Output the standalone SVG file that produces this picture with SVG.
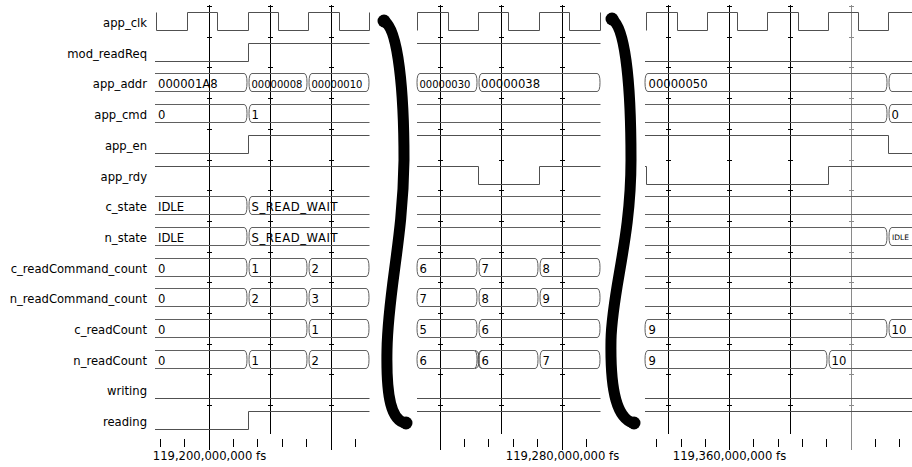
<svg xmlns="http://www.w3.org/2000/svg" xmlns:xlink="http://www.w3.org/1999/xlink" width="912" height="467" viewBox="0 0 912 467">
<style>
.w{fill:none;stroke:#505050;stroke-width:1}
.b{fill:none;stroke:#606060;stroke-width:1}
.g{fill:none;stroke:#000;stroke-width:1}
.gg{fill:none;stroke:#8a8a8a;stroke-width:1}
.lbl{font-family:"DejaVu Sans","Liberation Sans",sans-serif;font-size:11.6px;text-anchor:end;fill:#000}
.v{font-family:"DejaVu Sans","Liberation Sans",sans-serif;font-size:11.6px;fill:#000}
.vs{font-size:10px}
.vt{font-size:7.5px}
.t{font-family:"DejaVu Sans","Liberation Sans",sans-serif;font-size:11.6px;text-anchor:middle;fill:#000}
.brace{fill:none;stroke:#000;stroke-width:11;stroke-linecap:round}
</style>
<defs>
<path id="b1a" class="b" d="M155,6.5 H244 Q247,6.5 247,15.5 Q247,24.5 244,24.5 H155"/>
<path id="b1b" class="b" d="M252,6.5 H304 Q307,6.5 307,15.5 Q307,24.5 304,24.5 H252 Q249,24.5 249,15.5 Q249,6.5 252,6.5 Z"/>
<path id="b1c" class="b" d="M312,6.5 H366 Q369,6.5 369,15.5 Q369,24.5 366,24.5 H312 Q309,24.5 309,15.5 Q309,6.5 312,6.5 Z"/>
<path id="b1o" class="b" d="M369.5,6.5 H252 Q249,6.5 249,15.5 Q249,24.5 252,24.5 H369.5"/>
<path id="b1ab" class="b" d="M155,6.5 H304 Q307,6.5 307,15.5 Q307,24.5 304,24.5 H155"/>
<path id="b2a" class="b" d="M420,6.5 H474 Q477,6.5 477,15.5 Q477,24.5 474,24.5 H420 Q417,24.5 417,15.5 Q417,6.5 420,6.5 Z"/>
<path id="b2b" class="b" d="M482,6.5 H535 Q538,6.5 538,15.5 Q538,24.5 535,24.5 H482 Q479,24.5 479,15.5 Q479,6.5 482,6.5 Z"/>
<path id="b2c" class="b" d="M543,6.5 H597 Q600,6.5 600,15.5 Q600,24.5 597,24.5 H543 Q540,24.5 540,15.5 Q540,6.5 543,6.5 Z"/>
<path id="b2bc" class="b" d="M482,6.5 H597 Q600,6.5 600,15.5 Q600,24.5 597,24.5 H482 Q479,24.5 479,15.5 Q479,6.5 482,6.5 Z"/>
<path id="l2" class="b" d="M417,6.5 H600.5 M417,24.5 H600.5"/>
<path id="l3" class="b" d="M645,6.5 H912 M645,24.5 H912"/>
<path id="b3oa" class="b" d="M645,6.5 H884 Q887,6.5 887,15.5 Q887,24.5 884,24.5 H645"/>
<path id="b3a" class="b" d="M648,6.5 H884 Q887,6.5 887,15.5 Q887,24.5 884,24.5 H648 Q645,24.5 645,15.5 Q645,6.5 648,6.5 Z"/>
<path id="b3o" class="b" d="M912,6.5 H892 Q889,6.5 889,15.5 Q889,24.5 892,24.5 H912"/>
<path id="b3s" class="b" d="M648,6.5 H824 Q827,6.5 827,15.5 Q827,24.5 824,24.5 H648 Q645,24.5 645,15.5 Q645,6.5 648,6.5 Z"/>
<path id="b3so" class="b" d="M912,6.5 H832 Q829,6.5 829,15.5 Q829,24.5 832,24.5 H912"/>
<path id="ticks" d="M-2,6.5 h5 M-2,37.5 h5 M-2,67.5 h5 M-2,98.5 h5 M-2,129.5 h5 M-2,160.5 h5 M-2,190.5 h5 M-2,221.5 h5 M-2,252.5 h5 M-2,282.5 h5 M-2,313.5 h5 M-2,344.5 h5 M-2,374.5 h5 M-2,405.5 h5"/>
</defs>

<g id="grid">
<g class="g">
<path d="M209.5,5 V450 M270.5,5 V434 M331.5,5 V450 M440.5,5 V450 M501.5,5 V434 M562.5,5 V450 M668.5,5 V434 M729.5,5 V450 M790.5,5 V434"/>
<use href="#ticks" x="209"/><use href="#ticks" x="270"/><use href="#ticks" x="331"/>
<use href="#ticks" x="440"/><use href="#ticks" x="501"/><use href="#ticks" x="562"/>
<use href="#ticks" x="668"/><use href="#ticks" x="729"/><use href="#ticks" x="790"/>
<path d="M160.5,439 V447 M184.5,439 V447 M233.5,439 V447 M257.5,439 V447 M282.5,439 V447 M306.5,439 V447 M355.5,439 V447 M464.5,439 V447 M488.5,439 V447 M513.5,439 V447 M537.5,439 V447 M586.5,439 V447 M656.5,439 V447 M681.5,439 V447 M705.5,439 V447 M753.5,439 V447 M778.5,439 V447 M802.5,439 V447 M826.5,439 V447 M875.5,439 V447 M899.5,439 V447"/>
</g>
<g class="gg"><path d="M851.5,5 V450"/><use href="#ticks" x="851"/></g>
<text class="t" x="209.5" y="460">119,200,000,000 fs</text>
<text class="t" x="562.5" y="460">119,280,000,000 fs</text>
<text class="t" x="729.5" y="460">119,360,000,000 fs</text>
</g>

<g id="app_clk" transform="translate(0,6)">
<text class="lbl" x="147" y="21">app_clk</text>
<path class="w" d="M156.5,6.5 V24.5 H187.5 V6.5 H217.5 V24.5 H248.5 V6.5 H278.5 V24.5 H308.5 V6.5 H339.5 V24.5 H369.5 V6.5"/>
<path class="w" d="M417.5,24.5 V6.5 H448.5 V24.5 H478.5 V6.5 H508.5 V24.5 H539.5 V6.5 H569.5 V24.5 H600.5 V6.5"/>
<path class="w" d="M646.5,24.5 V6.5 H677.5 V24.5 H707.5 V6.5 H737.5 V24.5 H767.5 V6.5 H798.5 V24.5 H828.5 V6.5 H858.5 V24.5 H888.5 V6.5 H912"/>
</g>

<g id="mod_readReq" transform="translate(0,37)">
<text class="lbl" x="147" y="21">mod_readReq</text>
<path class="w" d="M155,24.5 H248.5 V6.5 H369.5 M417,6.5 H600.5 M645,24.5 H912"/>
</g>

<g id="app_addr" transform="translate(0,67)">
<text class="lbl" x="147" y="21">app_addr</text>
<use href="#b1a"/><use href="#b1b"/><use href="#b1c"/>
<use href="#b2a"/><use href="#b2bc"/>
<use href="#b3a"/><use href="#b3o"/>
<text class="v" x="158" y="21">000001A8</text>
<text class="v vs" x="251.5" y="20.5">00000008</text>
<text class="v vs" x="311.5" y="20.5">00000010</text>
<text class="v vs" x="419.5" y="20.5">00000030</text>
<text class="v" x="481" y="21">00000038</text>
<text class="v" x="648.5" y="21">00000050</text>
</g>

<g id="app_cmd" transform="translate(0,98)">
<text class="lbl" x="147" y="21">app_cmd</text>
<use href="#b1a"/><use href="#b1o"/>
<use href="#l2"/>
<use href="#b3oa"/><use href="#b3o"/>
<text class="v" x="158" y="21">0</text>
<text class="v" x="251.5" y="21">1</text>
<text class="v" x="891.5" y="21">0</text>
</g>

<g id="app_en" transform="translate(0,129)">
<text class="lbl" x="147" y="21">app_en</text>
<path class="w" d="M155,24.5 H248.5 V6.5 H369.5 M417,6.5 H600.5 M645,6.5 H888.5 V24.5 H912"/>
</g>

<g id="app_rdy" transform="translate(0,160)">
<text class="lbl" x="147" y="21">app_rdy</text>
<path class="w" d="M155,6.5 H369.5 M417,6.5 H478.5 V24.5 H539.5 V6.5 H600.5 M645,6.5 H646.5 V24.5 H828.5 V6.5 H912"/>
</g>

<g id="c_state" transform="translate(0,190)">
<text class="lbl" x="147" y="21">c_state</text>
<use href="#b1a"/><use href="#b1o"/>
<use href="#l2"/>
<use href="#l3"/>
<text class="v" x="158" y="21">IDLE</text>
<text class="v" x="251.5" y="21" textLength="86" lengthAdjust="spacing">S_READ_WAIT</text>
</g>

<g id="n_state" transform="translate(0,221)">
<text class="lbl" x="147" y="21">n_state</text>
<use href="#b1a"/><use href="#b1o"/>
<use href="#l2"/>
<use href="#b3oa"/><use href="#b3o"/>
<text class="v" x="158" y="21">IDLE</text>
<text class="v" x="251.5" y="21" textLength="86" lengthAdjust="spacing">S_READ_WAIT</text>
<text class="v vt" x="892" y="18.5">IDLE</text>
</g>

<g id="c_readCommand_count" transform="translate(0,252)">
<text class="lbl" x="147" y="21">c_readCommand_count</text>
<use href="#b1a"/><use href="#b1b"/><use href="#b1c"/>
<use href="#b2a"/><use href="#b2b"/><use href="#b2c"/>
<use href="#l3"/>
<text class="v" x="158" y="21">0</text>
<text class="v" x="251.5" y="21">1</text>
<text class="v" x="311.5" y="21">2</text>
<text class="v" x="419.5" y="21">6</text>
<text class="v" x="481.5" y="21">7</text>
<text class="v" x="542.5" y="21">8</text>
</g>

<g id="n_readCommand_count" transform="translate(0,282)">
<text class="lbl" x="147" y="21">n_readCommand_count</text>
<use href="#b1a"/><use href="#b1b"/><use href="#b1c"/>
<use href="#b2a"/><use href="#b2b"/><use href="#b2c"/>
<use href="#l3"/>
<text class="v" x="158" y="21">0</text>
<text class="v" x="251.5" y="21">2</text>
<text class="v" x="311.5" y="21">3</text>
<text class="v" x="419.5" y="21">7</text>
<text class="v" x="481.5" y="21">8</text>
<text class="v" x="542.5" y="21">9</text>
</g>

<g id="c_readCount" transform="translate(0,313)">
<text class="lbl" x="147" y="21">c_readCount</text>
<use href="#b1ab"/><use href="#b1c"/>
<use href="#b2a"/><use href="#b2bc"/>
<use href="#b3a"/><use href="#b3o"/>
<text class="v" x="158" y="21">0</text>
<text class="v" x="311.5" y="21">1</text>
<text class="v" x="419.5" y="21">5</text>
<text class="v" x="481.5" y="21">6</text>
<text class="v" x="648.5" y="21">9</text>
<text class="v" x="891.5" y="21">10</text>
</g>

<g id="n_readCount" transform="translate(0,344)">
<text class="lbl" x="147" y="21">n_readCount</text>
<use href="#b1a"/><use href="#b1b"/><use href="#b1c"/>
<use href="#b2a"/><use href="#b2b"/><use href="#b2c"/>
<path class="w" d="M475,6.5 Q479,6.5 479,15.5 Q479,24.5 475,24.5 M482,6.5 Q478,6.5 478,15.5 Q478,24.5 482,24.5"/>
<use href="#b3s"/><use href="#b3so"/>
<text class="v" x="158" y="21">0</text>
<text class="v" x="251.5" y="21">1</text>
<text class="v" x="311.5" y="21">2</text>
<text class="v" x="419.5" y="21">6</text>
<text class="v" x="481.5" y="21">6</text>
<text class="v" x="542.5" y="21">7</text>
<text class="v" x="648.5" y="21">9</text>
<text class="v" x="831.5" y="21">10</text>
</g>

<g id="writing" transform="translate(0,374)">
<text class="lbl" x="147" y="21">writing</text>
<path class="w" d="M155,24.5 H369.5 M417,24.5 H600.5 M645,24.5 H912"/>
</g>

<g id="reading" transform="translate(0,405)">
<text class="lbl" x="147" y="21">reading</text>
<path class="w" d="M155,24.5 H248.5 V6.5 H369.5 M417,6.5 H600.5 M645,6.5 H912"/>
</g>

<g id="breaks">
<path class="brace" d="M385,22 C398,30 404,90 404,160 C403,240 388,290 387,350 C386,400 392,420 405,423"/>
<path class="brace" d="M613,20 C626,30 631,90 631,160 C631,240 612,290 611,340 C610,395 618,418 633,423"/>
<circle cx="384" cy="21" r="6.5"/>
<circle cx="406" cy="423" r="6.5"/>
<circle cx="612" cy="19" r="6.5"/>
<circle cx="634" cy="423" r="6.5"/>
</g>
</svg>
